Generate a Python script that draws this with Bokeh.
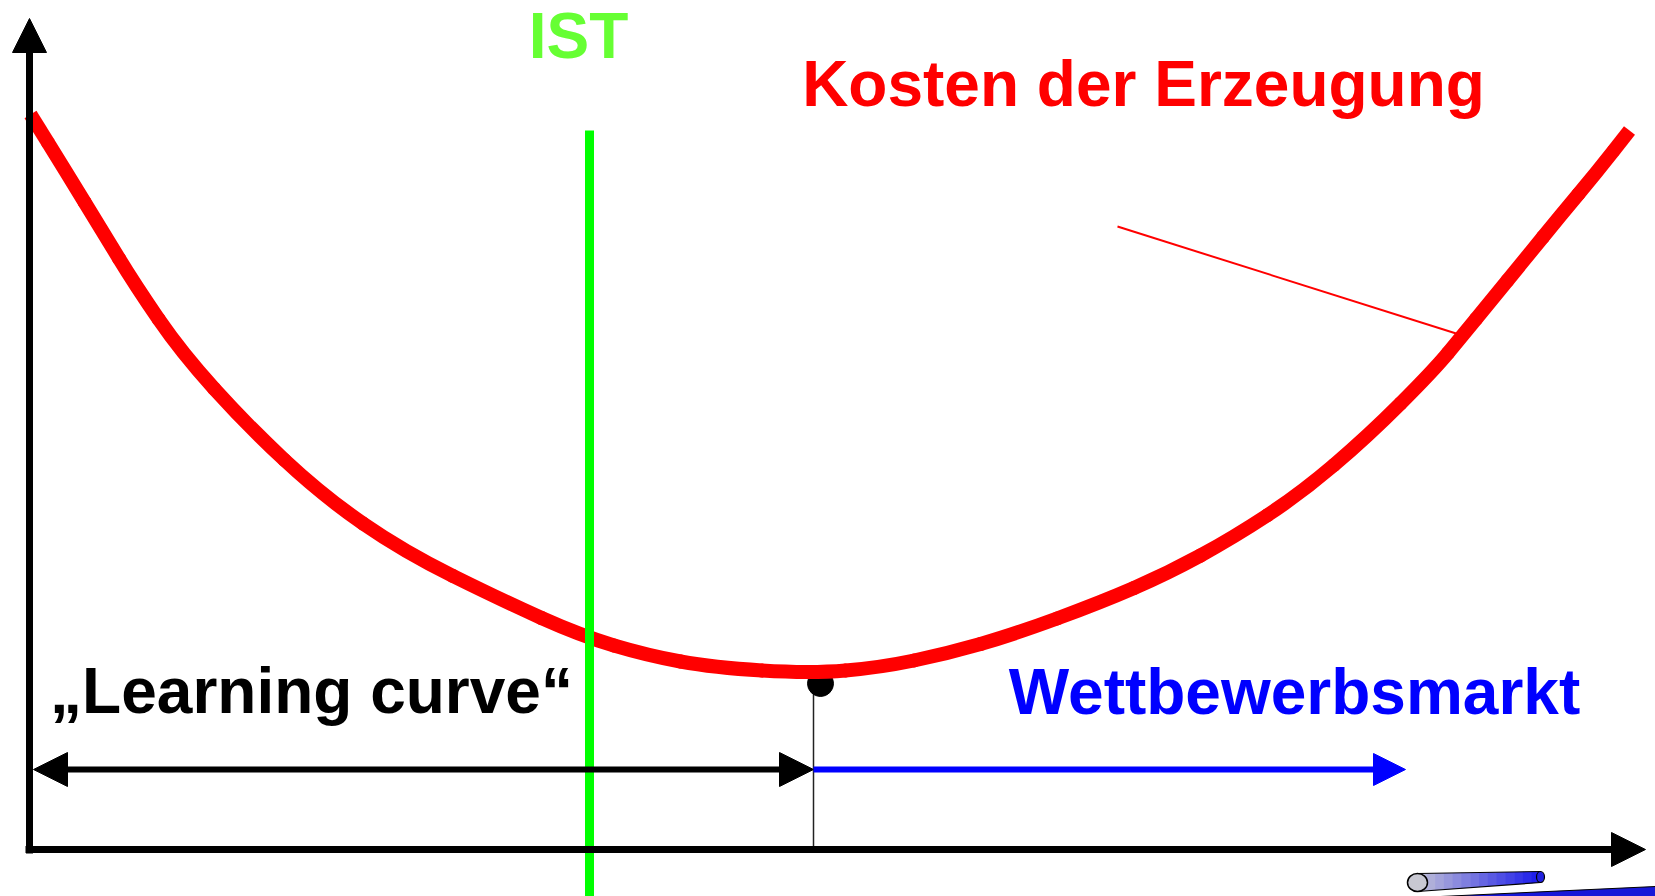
from bokeh.plotting import figure
from bokeh.models import Range1d, Arrow, NormalHead
from bokeh.embed import file_html
from bokeh.resources import INLINE
from bokeh.core.properties import value

# ---- data (chart units: origin at the axis crossing) ----
cost_x = [1, 37, 73, 106, 152, 217, 293, 374, 473, 551, 618, 684, 781, 851,
          918, 984, 1071, 1138, 1204, 1271, 1338, 1404, 1433, 1460, 1496,
          1531, 1567, 1600]
cost_y = [735, 677, 618, 564, 497, 425, 354, 298, 249, 214, 194, 182, 176,
          182, 196, 215, 247, 276, 312, 356, 413, 479, 514, 547, 591, 634,
          677, 719]

ist_x = [560]
ist_top = [719]
optimum_x = [784]
optimum_dot_x = [791]
optimum_y = [166]

learning_range = [4, 784]
market_range = [784, 1376]
range_y = 80

pointer_x = [1088, 1433]
pointer_y = [623, 514]

axis_x_end = 1616
axis_y_end = 831

label_texts = ["IST", "Kosten der Erzeugung", "\u201eLearning curve\u201c", "Wettbewerbsmarkt"]
label_x = [549, 1114, 282, 1265]
label_y = [814, 766, 159, 158]
label_colors = ["#66FF33", "#FF0000", "#000000", "#0000FF"]

# decorative pen (bottom right)
pen_x0, pen_x1 = 1388, 1511
pen_top = [-24, -22]
pen_bot = [-42, -33]
pen_cap_x, pen_cap_y = 1388, -33
pen_bar_x = [1411, 1626, 1626, 1411]
pen_bar_y = [-47, -37, -47, -47]

FONT = value("Liberation Sans")

p = figure(width=1655, height=896,
           x_range=Range1d(-29, 1626), y_range=Range1d(-47, 849),
           output_backend="svg", toolbar_location=None,
           x_axis_location=None, y_axis_location=None,
           min_border=0, outline_line_color=None,
           background_fill_color="white", border_fill_color="white")
p.grid.visible = False

# optimum marker: thin drop line and dot
p.segment(x0=optimum_x, y0=[0], x1=optimum_x, y1=optimum_y,
          line_width=1.5, line_color="#222222")
p.scatter(x=optimum_dot_x, y=optimum_y, size=26, color="black")

# axes as arrows
ax_head = dict(size=34, fill_color="black", line_color="black", line_width=1)
p.add_layout(Arrow(end=NormalHead(**ax_head), x_start=-4, y_start=0,
                   x_end=axis_x_end, y_end=0, line_width=7, line_color="black"))
p.add_layout(Arrow(end=NormalHead(**ax_head), x_start=0, y_start=-4,
                   x_end=0, y_end=axis_y_end, line_width=7, line_color="black"))

# range arrows
p.add_layout(Arrow(start=NormalHead(**ax_head), end=NormalHead(**ax_head),
                   x_start=learning_range[0], y_start=range_y,
                   x_end=learning_range[1], y_end=range_y,
                   line_width=6, line_color="black"))
p.add_layout(Arrow(end=NormalHead(size=32, fill_color="#0000FF", line_color="#0000FF", line_width=1),
                   x_start=market_range[0], y_start=range_y,
                   x_end=market_range[1], y_end=range_y,
                   line_width=6, line_color="#0000FF"))

# cost curve: smooth quadratic pieces between midpoints, read points as controls
n = len(cost_x)
mx = [(cost_x[i] + cost_x[i + 1]) / 2 for i in range(n - 1)]
my = [(cost_y[i] + cost_y[i + 1]) / 2 for i in range(n - 1)]
p.quadratic(x0=mx[:-1], y0=my[:-1], x1=mx[1:], y1=my[1:],
            cx=cost_x[1:-1], cy=cost_y[1:-1],
            line_width=14, line_color="#FF0000", line_cap="round")
p.segment(x0=[cost_x[0], mx[-1]], y0=[cost_y[0], my[-1]],
          x1=[mx[0], cost_x[-1]], y1=[my[0], cost_y[-1]],
          line_width=14, line_color="#FF0000", line_cap="butt")
p.line(pointer_x, pointer_y, line_width=2, line_color="#FF0000")

# IST line
p.segment(x0=ist_x, y0=ist_top, x1=ist_x, y1=[-60],
          line_width=9, line_color="#00FF00", line_cap="butt")

# labels
for t, x, y, c in zip(label_texts, label_x, label_y, label_colors):
    p.text(x=[x], y=[y], text=[t], text_font=FONT, text_font_style="bold",
           text_font_size="64px", text_color=c, text_align="center",
           text_baseline="alphabetic")

# decorative pen: gradient cylinder
p.patch(pen_bar_x, pen_bar_y, fill_color="#1818D8", line_color="black", line_width=1)
k = 14
xs, ys, cols = [], [], []
for i in range(k):
    f0, f1 = i / k, (i + 1) / k
    xa = pen_x0 + (pen_x1 - pen_x0) * f0
    xb = pen_x0 + (pen_x1 - pen_x0) * f1
    ta = pen_top[0] + (pen_top[1] - pen_top[0]) * f0
    tb = pen_top[0] + (pen_top[1] - pen_top[0]) * f1
    ba = pen_bot[0] + (pen_bot[1] - pen_bot[0]) * f0
    bb = pen_bot[0] + (pen_bot[1] - pen_bot[0]) * f1
    xs.append([xa, xb + 0.6, xb + 0.6, xa])
    ys.append([ta, tb, bb, ba])
    r = int(200 + (30 - 200) * f1)
    g = int(200 + (30 - 200) * f1)
    b = int(215 + (235 - 215) * f1)
    cols.append("#%02x%02x%02x" % (r, g, b))
p.patches(xs, ys, fill_color=cols, line_color=None)
p.line([pen_x0, pen_x1], pen_top, line_color="black", line_width=1.2)
p.line([pen_x0, pen_x1], pen_bot, line_color="black", line_width=1.2)
p.ellipse(x=[pen_x1], y=[(pen_top[1] + pen_bot[1]) / 2], width=8, height=11,
          fill_color="#2020E0", line_color="black", line_width=1.2)
p.ellipse(x=[pen_cap_x], y=[pen_cap_y], width=20, height=18,
          fill_color="#C8C8D2", line_color="black", line_width=1.5)

open("out.html", "w").write(file_html(p, INLINE))
